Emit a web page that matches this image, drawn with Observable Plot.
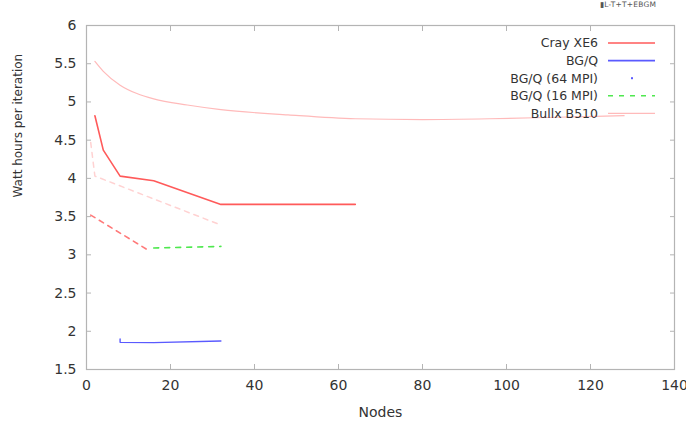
<!DOCTYPE html>
<html>
<head>
<meta charset="utf-8">
<script src="https://cdn.jsdelivr.net/npm/d3@7"></script>
<script src="https://cdn.jsdelivr.net/npm/@observablehq/plot@0.6"></script>
<style>
  html, body { margin: 0; padding: 0; background: #fff; }
  #chart { position: relative; width: 686px; height: 422px; overflow: hidden; }
  #corner { position: absolute; left: 600px; top: 0px; font: 7.5px/9px "DejaVu Sans", sans-serif; color: #555; letter-spacing: 0.2px; white-space: nowrap; }
</style>
</head>
<body>
<div id="chart"><div id="corner">▮L-T+T+EBGM</div></div>
<script>
// ---- data ----
const crayNodes = [2, 4, 8, 16, 32, 64];
const crayWh    = [4.82, 4.37, 4.03, 3.97, 3.66, 3.66];

const bgqNodes = [8, 8, 16, 32];
const bgqWh    = [1.90, 1.855, 1.852, 1.872];

const bgq16Nodes = [16, 32];
const bgq16Wh    = [3.09, 3.11];

const bullxNodes = [2, 4, 8, 12, 16, 24, 32, 48, 64, 80, 96, 112, 128];
const bullxWh    = [5.53, 5.40, 5.22, 5.11, 5.04, 4.96, 4.90, 4.83, 4.78, 4.77, 4.78, 4.80, 4.82];

const extraANodes = [1, 2, 32];       // faint dashed (unlabelled)
const extraAWh    = [4.47, 4.03, 3.39];
const extraBNodes = [1, 15];          // red dashed (unlabelled)
const extraBWh    = [3.52, 3.05];

const legendNames = ["Cray XE6", "BG/Q", "BG/Q (64 MPI)", "BG/Q (16 MPI)", "Bullx B510"];

const xTicks = [0, 20, 40, 60, 80, 100, 120, 140];
const yTicks = [1.5, 2, 2.5, 3, 3.5, 4, 4.5, 5, 5.5, 6];

const zip = (xs, ys) => xs.map((x, i) => ({x, y: ys[i]}));

// ---- styles ----
const cRed = "#ff5a5a", cBlue = "#5a5aff", cGreen = "#4fe84f", cPink = "#ffbaba", cPinkDash = "#ffd2d2", cRedDash = "#ff7a7a";
const axisColor = "#b4b4b4";
const font = "'DejaVu Sans', sans-serif";

const plot = Plot.plot({
  width: 686,
  height: 422,
  marginLeft: 86,
  marginRight: 12,
  marginTop: 25,
  marginBottom: 53,
  style: {fontFamily: font, fontSize: "14px", color: "#333", background: "#fff"},
  x: {domain: [0, 140], axis: null},
  y: {domain: [1.5, 6], axis: null},
  marks: [
    Plot.frame({stroke: axisColor, strokeWidth: 1.2}),
    // inward ticks on all four sides
    Plot.axisX(xTicks.slice(1, -1), {anchor: "bottom", tickSize: 5, dy: -5, tickFormat: () => "", stroke: axisColor, label: null}),
    Plot.axisX(xTicks.slice(1, -1), {anchor: "top", tickSize: 5, dy: 5, tickFormat: () => "", stroke: axisColor, label: null}),
    Plot.axisY(yTicks.slice(1, -1), {anchor: "left", tickSize: 5, dx: 5, tickFormat: () => "", stroke: axisColor, label: null}),
    Plot.axisY(yTicks.slice(1, -1), {anchor: "right", tickSize: 5, dx: -5, tickFormat: () => "", stroke: axisColor, label: null}),
    // tick labels
    Plot.axisX(xTicks, {anchor: "bottom", tickSize: 0, tickPadding: 11, fontSize: 14, fill: "#333", label: "Nodes", labelAnchor: "center", labelOffset: 47, labelArrow: "none"}),
    Plot.axisY(yTicks, {anchor: "left", tickSize: 0, tickPadding: 10, fontSize: 14, fill: "#333", tickFormat: d => String(d), label: null}),
    Plot.text(["Watt hours per iteration"], {frameAnchor: "left", rotate: -90, dx: -68, fontSize: 12, fill: "#333"}),
    // data
    Plot.line(zip(bullxNodes, bullxWh), {x: "x", y: "y", stroke: cPink, strokeWidth: 1.2, curve: "monotone-x"}),
    Plot.line(zip(extraANodes, extraAWh), {x: "x", y: "y", stroke: cPinkDash, strokeWidth: 1.5, strokeDasharray: "5,5"}),
    Plot.line(zip(extraBNodes, extraBWh), {x: "x", y: "y", stroke: cRedDash, strokeWidth: 1.6, strokeDasharray: "5,5"}),
    Plot.line(zip(bgq16Nodes, bgq16Wh), {x: "x", y: "y", stroke: cGreen, strokeWidth: 1.6, strokeDasharray: "5,6"}),
    Plot.line(zip(crayNodes, crayWh), {x: "x", y: "y", stroke: cRed, strokeWidth: 1.6}),
    Plot.line(zip(bgqNodes, bgqWh), {x: "x", y: "y", stroke: cBlue, strokeWidth: 1.4})
  ]
});

document.getElementById("chart").insertBefore(plot, document.getElementById("corner"));

// ---- legend (top-right, inside frame) ----
const svg = d3.select(plot);
const legendStyles = [
  {stroke: cRed, width: 1.6, dash: null},
  {stroke: cBlue, width: 1.6, dash: null},
  {stroke: cBlue, width: 1.6, dash: "dot"},
  {stroke: cGreen, width: 1.6, dash: "5,6"},
  {stroke: cPink, width: 1.2, dash: null}
];
const lg = svg.append("g").attr("font-family", font).attr("font-size", 12.5).attr("fill", "#333");
legendNames.forEach((name, i) => {
  const y = 43 + i * 17.6;
  lg.append("text").attr("x", 598).attr("y", y).attr("dy", "0.35em").attr("text-anchor", "end").text(name);
  const st = legendStyles[i];
  if (st.dash === "dot") {
    lg.append("rect").attr("x", 631).attr("y", y - 1).attr("width", 2).attr("height", 2).attr("fill", st.stroke);
  } else {
    const l = lg.append("line").attr("x1", 608).attr("x2", 655).attr("y1", y).attr("y2", y)
      .attr("stroke", st.stroke).attr("stroke-width", st.width);
    if (st.dash) l.attr("stroke-dasharray", st.dash);
  }
});
</script>
</body>
</html>
